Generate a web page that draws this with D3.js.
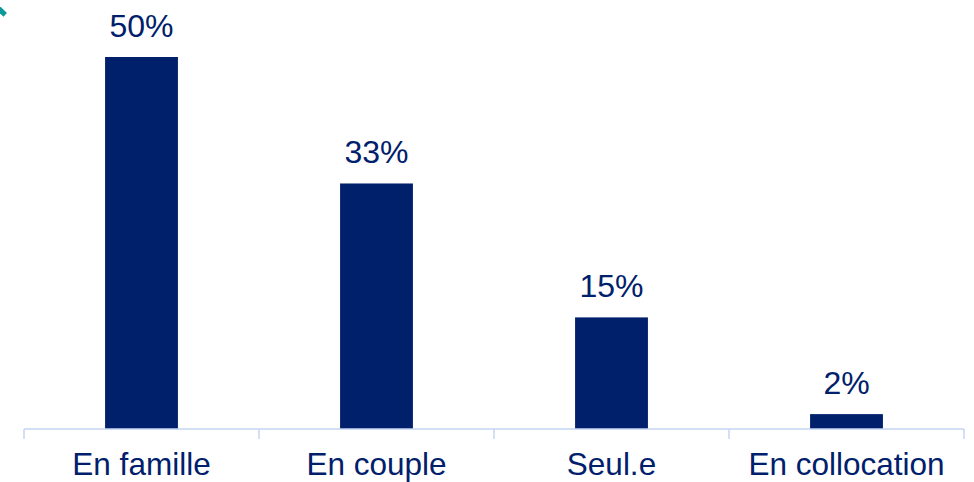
<!DOCTYPE html>
<html>
<head>
<meta charset="utf-8">
<script src="https://cdn.jsdelivr.net/npm/d3@7"></script>
<style>
  body { margin: 0; background: #fff; }
  svg { display: block; font-family: "Liberation Sans", Arial, sans-serif; }
</style>
</head>
<body>
<svg width="974" height="482"></svg>
<script>
const WIDTH = 974
const HEIGHT = 482

const categories = ['En famille', 'En couple', 'Seul.e', 'En collocation']
const values = [50, 33, 15, 2]

const NAVY = '#00206b'
const AXIS = '#c4d4f2'

const svg = d3.select('svg')

const x = d3.scaleBand()
    .domain(categories)
    .range([24, 964])
    .paddingInner(0.69)
    .paddingOuter(0.345)

const y = d3.scaleLinear()
    .domain([0, 50])
    .range([429, 57])

// little teal mark in the corner
svg.append('rect')
    .attr('x', -2).attr('y', 9)
    .attr('width', 9).attr('height', 5)
    .attr('fill', '#0a9a9a')
    .attr('transform', 'rotate(45 2 11)')

svg.append('g')
    .selectAll('rect')
    .data(values)
    .enter().append('rect')
    .attr('x', (d, i) => x(categories[i]))
    .attr('y', d => y(d))
    .attr('width', x.bandwidth())
    .attr('height', d => y(0) - y(d))
    .attr('fill', NAVY)

svg.append('g')
    .selectAll('text')
    .data(values)
    .enter().append('text')
    .attr('x', (d, i) => x(categories[i]) + x.bandwidth() / 2)
    .attr('y', d => y(d) - 20)
    .attr('text-anchor', 'middle')
    .attr('font-size', 32)
    .attr('fill', NAVY)
    .text(d => d + '%')

// axis: line + ticks at band boundaries
const step = x.step()
const edges = d3.range(categories.length + 1).map(i => 24 + i * step)
const axis = svg.append('g')
axis.append('line')
    .attr('x1', 24).attr('x2', 964)
    .attr('y1', y(0)).attr('y2', y(0))
    .attr('stroke', AXIS).attr('stroke-width', 1.5)
axis.selectAll('line.tick')
    .data(edges)
    .enter().append('line')
    .attr('class', 'tick')
    .attr('x1', d => d).attr('x2', d => d)
    .attr('y1', y(0)).attr('y2', y(0) + 10)
    .attr('stroke', AXIS).attr('stroke-width', 1.5)

axis.selectAll('text')
    .data(categories)
    .enter().append('text')
    .attr('x', d => x(d) + x.bandwidth() / 2)
    .attr('y', 475)
    .attr('text-anchor', 'middle')
    .attr('font-size', 31.5)
    .attr('fill', NAVY)
    .text(d => d)
</script>
</body>
</html>
